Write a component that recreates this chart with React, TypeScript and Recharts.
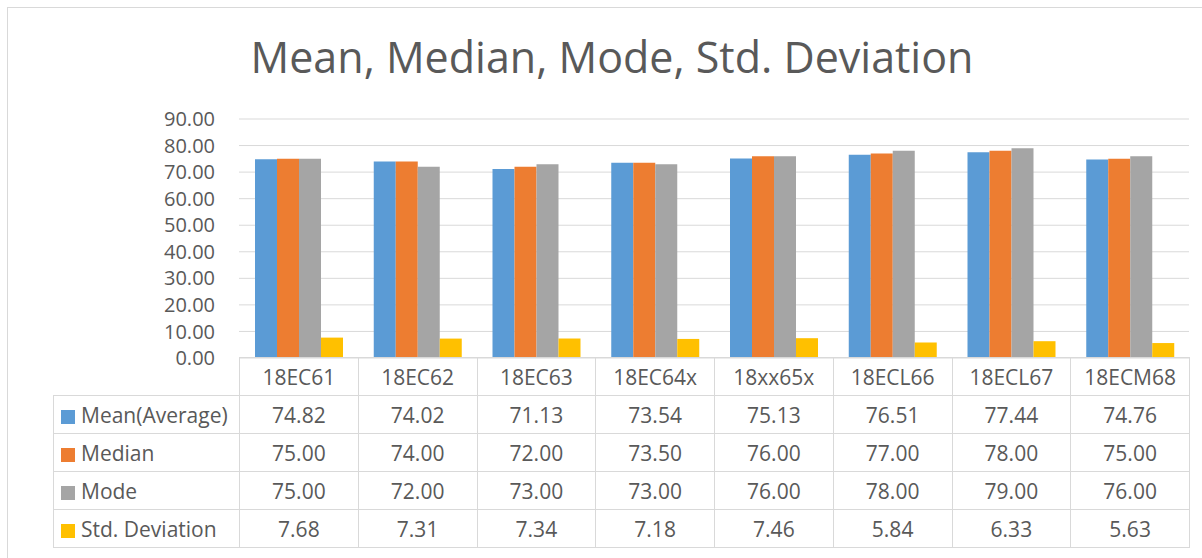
import { BarChart, Bar, XAxis, YAxis, CartesianGrid } from "recharts";

const categories = ["18EC61", "18EC62", "18EC63", "18EC64x", "18xx65x", "18ECL66", "18ECL67", "18ECM68"];
const meanValues = [74.82, 74.02, 71.13, 73.54, 75.13, 76.51, 77.44, 74.76];
const medianValues = [75.0, 74.0, 72.0, 73.5, 76.0, 77.0, 78.0, 75.0];
const modeValues = [75.0, 72.0, 73.0, 73.0, 76.0, 78.0, 79.0, 76.0];
const stdValues = [7.68, 7.31, 7.34, 7.18, 7.46, 5.84, 6.33, 5.63];
const yTicks = [0, 10, 20, 30, 40, 50, 60, 70, 80, 90];

const series = [
  { key: "mean", name: "Mean(Average)", color: "#5B9BD5", values: meanValues },
  { key: "median", name: "Median", color: "#ED7D31", values: medianValues },
  { key: "mode", name: "Mode", color: "#A5A5A5", values: modeValues },
  { key: "std", name: "Std. Deviation", color: "#FFC000", values: stdValues },
];

const data = categories.map((c, i) => {
  const row: Record<string, string | number> = { category: c };
  series.forEach((s) => (row[s.key] = s.values[i]));
  return row;
});

const FONT = "'Open Sans', sans-serif";
const TEXT = "#595959";
const LINE = "#D9D9D9";

const PLOT_LEFT = 239;
const PLOT_RIGHT = 1189;
const PLOT_TOP = 119;
const PLOT_BOTTOM = 358;
const colW = (PLOT_RIGHT - PLOT_LEFT) / categories.length;

export default function App() {
  const cell = {
    border: `1px solid ${LINE}`,
    padding: 0,
    height: 37,
    textAlign: "center" as const,
    fontSize: 21,
    color: TEXT,
  };
  return (
    <div
      style={{
        position: "absolute",
        left: 0,
        top: 0,
        width: 1202,
        height: 558,
        overflow: "hidden",
        background: "#fff",
        fontFamily: FONT,
      }}
    >
      <div
        style={{
          position: "absolute",
          left: 7,
          top: 7,
          width: 1300,
          height: 700,
          border: `1px solid ${LINE}`,
          borderRight: "none",
          borderBottom: "none",
        }}
      />
      <div
        style={{
          position: "absolute",
          left: 0,
          width: 1202,
          top: 28,
          textAlign: "center",
          fontSize: 43,
          lineHeight: "58px",
          color: TEXT,
          paddingLeft: 22,
          boxSizing: "border-box",
        }}
      >
        Mean, Median, Mode, Std. Deviation
      </div>
      <div style={{ position: "absolute", left: 0, top: 0 }}>
        <BarChart
          width={1202}
          height={558}
          data={data}
          margin={{ top: PLOT_TOP, right: 1202 - PLOT_RIGHT, bottom: 558 - PLOT_BOTTOM, left: 0 }}
          barCategoryGap={16}
          barGap={0}
        >
          <CartesianGrid vertical={false} stroke={LINE} strokeWidth={1} />
          <XAxis dataKey="category" hide />
          <YAxis
            width={PLOT_LEFT}
            domain={[0, 90]}
            ticks={yTicks}
            interval={0}
            axisLine={false}
            tickLine={false}
            tickSize={0}
            tickMargin={24}
            tickFormatter={(v: number) => v.toFixed(2)}
            tick={{ fontSize: 20, fill: TEXT, fontFamily: FONT }}
          />
          {series.map((s) => (
            <Bar key={s.key} dataKey={s.key} name={s.name} fill={s.color} isAnimationActive={false} />
          ))}
        </BarChart>
      </div>
      <table
        style={{
          position: "absolute",
          left: 53,
          top: PLOT_BOTTOM - 1,
          borderCollapse: "collapse",
          tableLayout: "fixed",
          width: PLOT_RIGHT - 53 + 1,
          fontFamily: FONT,
        }}
      >
        <colgroup>
          <col style={{ width: PLOT_LEFT - 53 }} />
          {categories.map((c) => (
            <col key={c} style={{ width: colW }} />
          ))}
        </colgroup>
        <tbody>
          <tr>
            <td style={{ ...cell, borderTop: "none", borderLeft: "none" }} />
            {categories.map((c) => (
              <td key={c} style={cell}>
                {c}
              </td>
            ))}
          </tr>
          {series.map((s) => (
            <tr key={s.key}>
              <td style={{ ...cell, textAlign: "left", whiteSpace: "nowrap" }}>
                <span
                  style={{
                    display: "inline-block",
                    width: 14,
                    height: 14,
                    background: s.color,
                    marginLeft: 7,
                    marginRight: 6,
                    verticalAlign: "-1px",
                  }}
                />
                {s.name}
              </td>
              {s.values.map((v, i) => (
                <td key={i} style={cell}>
                  {v.toFixed(2)}
                </td>
              ))}
            </tr>
          ))}
        </tbody>
      </table>
    </div>
  );
}
